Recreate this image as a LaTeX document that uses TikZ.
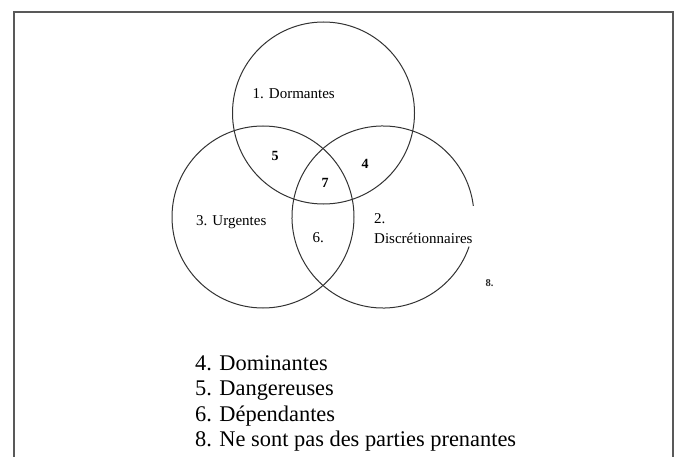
\documentclass[tikz,border=0pt]{standalone}
\usepackage{fontspec}
\setmainfont{Liberation Serif}
\begin{document}
\begin{tikzpicture}[x=1pt,y=-1pt,
  frameline/.style={draw=black!65, line width=1.4pt},
  ring/.style={draw=black!80, line width=1pt},
  ringnode/.style={ring, circle, inner sep=0pt, minimum size=182pt},
  lbl/.style={font=\fontsize{15}{20}\selectfont, inner sep=0pt, anchor=base west, text=black},
  num/.style={font=\fontsize{14}{18}\selectfont\bfseries, inner sep=0pt, anchor=base, text=black},
  small/.style={font=\fontsize{10.5}{13}\selectfont\bfseries, inner sep=0pt, anchor=base west, text=black!85},
  legend/.style={font=\fontsize{22.4}{25.4}\selectfont, inner sep=0pt, anchor=base west, text=black}]
\useasboundingbox (0,0) rectangle (674,457);

% open frame
\draw[frameline] (14,457) -- (14,12) -- (673,12) -- (673,457);

% the three sets
\node[ringnode] (dorm) at (323.5,113) {};
\node[ringnode] (urg) at (263,217) {};
\coordinate (disc) at (383,217);
\draw[ring] (disc) ++(19:91) arc[start angle=19, end angle=353, radius=91];

% set names
\node[lbl] (tdorm) at (252.5,99) {1. Dormantes};
\node[lbl] (turg) at (196,225) {3. Urgentes};
\node[lbl] (tdisc) at (374,223) {2.};
\node[lbl] (tdisc2) at (374,243) {Discrétionnaires};

% region numbers
\node[num] (n5) at (275,161) {5};
\node[num] (n4) at (365,169) {4};
\node[num] (n7) at (325,188) {7};
\node[lbl] (n6) at (312.5,242) {6.};
\node[small] (n8) at (485.5,286) {8.};

% legend
\node[legend] (l4) at (195,370) {4. Dominantes};
\node[legend] (l5) at (195,395.5) {5. Dangereuses};
\node[legend] (l6) at (195,421) {6. Dépendantes};
\node[legend] (l8) at (195,446.5) {8. Ne sont pas des parties prenantes};
\end{tikzpicture}
\end{document}
